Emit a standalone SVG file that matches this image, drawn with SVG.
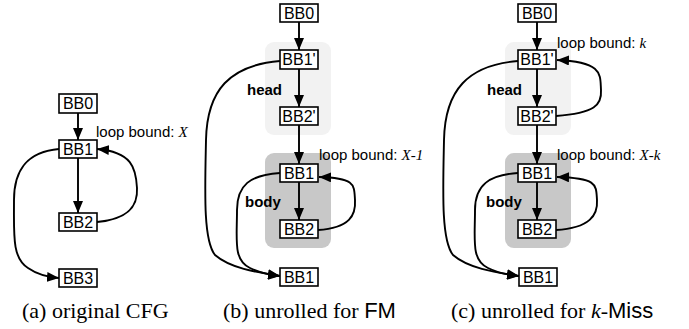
<svg xmlns="http://www.w3.org/2000/svg" width="689" height="329" viewBox="0 0 689 329">
<defs>
<marker id="arr" viewBox="0 0 12 10" refX="12" refY="5" markerWidth="12" markerHeight="10" markerUnits="userSpaceOnUse" orient="auto">
<path d="M0,0 L12,5 L0,10 Z" fill="#000"/>
</marker>
<style>
.box{fill:#fff;stroke:#000;stroke-width:1.6}
.nt{font-family:"Liberation Sans",Arial,sans-serif;font-size:16px;text-anchor:middle;dominant-baseline:central}
.lb{font-family:"Liberation Sans",Arial,sans-serif;font-size:15px}
.it{font-family:"Liberation Serif","Times New Roman",serif;font-style:italic}
.rl{font-family:"Liberation Sans",Arial,sans-serif;font-size:15px;font-weight:bold}
.e{fill:none;stroke:#000;stroke-width:1.9;marker-end:url(#arr)}
.head{fill:#f2f2f2}
.body{fill:#c8c8c8}
.cap{font-family:"Liberation Serif","Times New Roman",serif;font-size:22px}
.sans{font-family:"Liberation Sans",Arial,sans-serif}
</style>
</defs>
<rect width="689" height="329" fill="#fff"/>
<g id="regions">
<rect class="head" x="265" y="42" width="66" height="93" rx="9"/>
<rect class="body" x="265" y="153" width="66" height="95" rx="9"/>
<rect class="head" x="505" y="42" width="66" height="93" rx="9"/>
<rect class="body" x="505" y="153" width="66" height="95" rx="9"/>
</g>
<g id="connectors">
<path class="e" d="M78,113 L78,140"/>
<path class="e" d="M78,158 L78,213"/>
<path class="e" d="M97,222 C130,219 138,205 137,188 C136,168 132,152 97,149"/>
<path class="e" d="M59,149 C25,152 14,172 14,200 C14,235 12,258 28,268 C38,275 47,277 59,278"/>
<path class="e" d="M299,22 L299,50"/>
<path class="e" d="M299,69 L299,107"/>
<path class="e" d="M299,125 L299,164"/>
<path class="e" d="M299,182 L299,220"/>
<path class="e" d="M318,230 C350,228 356,215 355,200 C354,185 356,178 319,177"/>
<path class="e" d="M280,61 C230,65 207,90 206,140 C205,190 203,240 215,255 C230,268 255,272 280,276"/>
<path class="e" d="M280,173 C250,175 237,185 237,210 C237,240 233,260 250,268 C260,273 270,275 280,276"/>
<path class="e" d="M537,22 L537,50"/>
<path class="e" d="M537,69 L537,107"/>
<path class="e" d="M537,125 L537,164"/>
<path class="e" d="M537,182 L537,220"/>
<path class="e" d="M556,116 C595,113 602,105 601,90 C600,75 604,62 557,60"/>
<path class="e" d="M556,230 C590,228 598,215 597,200 C596,185 598,178 557,177"/>
<path class="e" d="M518,61 C468,65 445,90 444,140 C443,190 441,240 453,255 C468,268 493,272 519,276"/>
<path class="e" d="M518,173 C489,175 475,185 475,210 C475,240 471,260 488,268 C498,273 508,275 519,276"/>
</g>
<g id="a-BB0"><rect class="box" x="59" y="94" width="38" height="19"/><text class="nt" x="78" y="103.5">BB0</text></g>
<g id="a-BB1"><rect class="box" x="59" y="140" width="38" height="18"/><text class="nt" x="78" y="149">BB1</text></g>
<g id="a-BB2"><rect class="box" x="59" y="213" width="38" height="18"/><text class="nt" x="78" y="222">BB2</text></g>
<g id="a-BB3"><rect class="box" x="59" y="269" width="38" height="18"/><text class="nt" x="78" y="278">BB3</text></g>
<g id="b-BB0"><rect class="box" x="280" y="4" width="38" height="18"/><text class="nt" x="299" y="13">BB0</text></g>
<g id="b-BB1p"><rect class="box" x="280" y="50" width="38" height="19"/><text class="nt" x="299" y="59.5">BB1'</text></g>
<g id="b-BB2p"><rect class="box" x="280" y="107" width="38" height="18"/><text class="nt" x="299" y="116">BB2'</text></g>
<g id="b-BB1"><rect class="box" x="280" y="164" width="38" height="18"/><text class="nt" x="299" y="173">BB1</text></g>
<g id="b-BB2"><rect class="box" x="280" y="220" width="38" height="18"/><text class="nt" x="299" y="229">BB2</text></g>
<g id="b-BB1x"><rect class="box" x="280" y="268" width="38" height="18"/><text class="nt" x="299" y="277">BB1</text></g>
<g id="c-BB0"><rect class="box" x="518" y="4" width="38" height="18"/><text class="nt" x="537" y="13">BB0</text></g>
<g id="c-BB1p"><rect class="box" x="518" y="50" width="38" height="19"/><text class="nt" x="537" y="59.5">BB1'</text></g>
<g id="c-BB2p"><rect class="box" x="518" y="107" width="38" height="18"/><text class="nt" x="537" y="116">BB2'</text></g>
<g id="c-BB1"><rect class="box" x="518" y="164" width="38" height="18"/><text class="nt" x="537" y="173">BB1</text></g>
<g id="c-BB2"><rect class="box" x="518" y="220" width="38" height="18"/><text class="nt" x="537" y="229">BB2</text></g>
<g id="c-BB1x"><rect class="box" x="519" y="268" width="38" height="18"/><text class="nt" x="538" y="277">BB1</text></g>
<g id="labels">
<text class="lb" x="96" y="137">loop bound: <tspan class="it">X</tspan></text>
<text class="lb" x="319" y="160">loop bound: <tspan class="it">X-1</tspan></text>
<text class="lb" x="557" y="48">loop bound: <tspan class="it">k</tspan></text>
<text class="lb" x="557" y="160">loop bound: <tspan class="it">X-k</tspan></text>
<text class="rl" x="247" y="95">head</text>
<text class="rl" x="245" y="207">body</text>
<text class="rl" x="487" y="95">head</text>
<text class="rl" x="486" y="207">body</text>
</g>
<g id="captions">
<text class="cap" x="22" y="318">(a) original CFG</text>
<text class="cap" x="223" y="318">(b) unrolled for <tspan class="sans">FM</tspan></text>
<text class="cap" x="451" y="318">(c) unrolled for <tspan font-style="italic">k</tspan>-<tspan class="sans">Miss</tspan></text>
</g>
</svg>
